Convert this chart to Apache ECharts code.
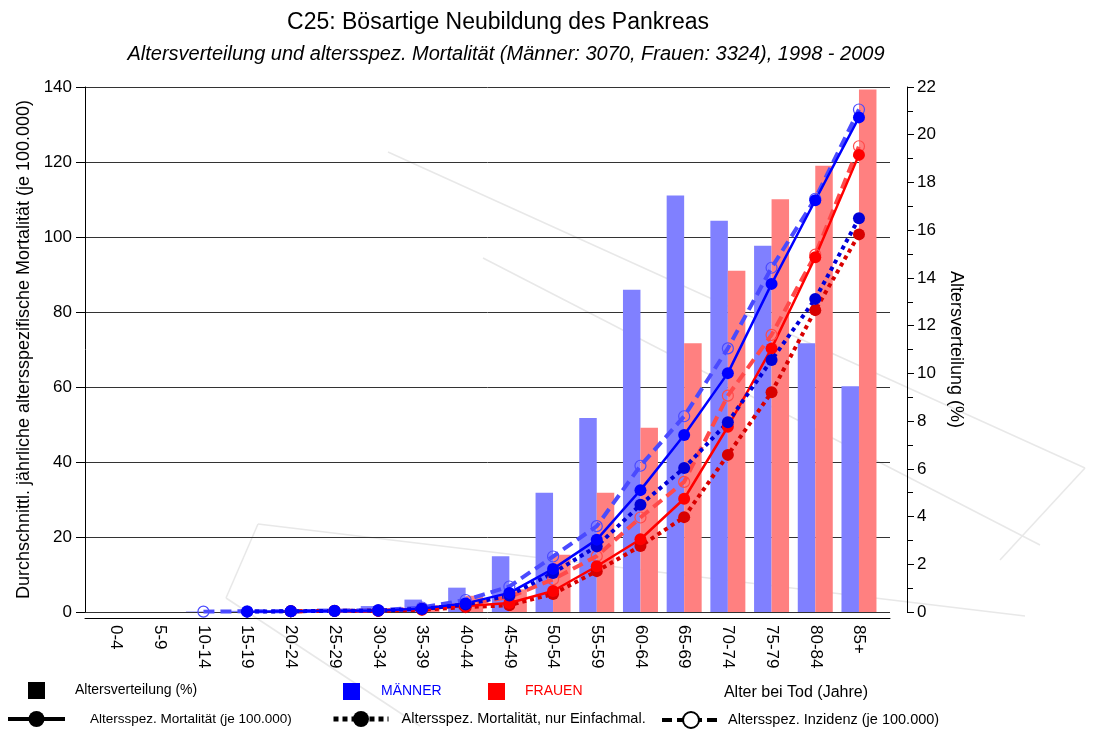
<!DOCTYPE html>
<html><head><meta charset="utf-8">
<script src="https://cdn.jsdelivr.net/npm/echarts@6/dist/echarts.min.js"></script>
<style>html,body{margin:0;padding:0;background:#fff}#c{width:1098px;height:733px}</style>
</head><body><div id="c"></div>
<script>
const categories = ['0-4','5-9','10-14','15-19','20-24','25-29','30-34','35-39','40-44','45-49','50-54','55-59','60-64','65-69','70-74','75-79','80-84','85+'];
// Altersverteilung (%)
const distMen   = [0, 0, 0.02, 0.05, 0.1, 0.15, 0.25, 0.52, 1.02, 2.34, 5.0, 8.13, 13.5, 17.45, 16.4, 15.35, 11.26, 9.46];
const distWomen = [0, 0, 0, 0.03, 0.05, 0.1, 0.15, 0.27, 0.68, 0.95, 2.4, 5.0, 7.72, 11.26, 14.3, 17.3, 18.7, 21.9];
// Altersspez. Mortalität (je 100.000)
const mortMen   = [null, null, null, 0.1, 0.2, 0.3, 0.4, 0.9, 2.3, 5.1, 11.5, 19.3, 32.5, 47.2, 63.7, 87.5, 109.8, 131.9];
const mortWomen = [null, null, null, null, 0.2, 0.3, 0.3, 0.7, 1.6, 2.4, 5.6, 12.2, 19.4, 30.2, 49.4, 70.3, 94.6, 121.9];
// Altersspez. Mortalität, nur Einfachmal.
const mortSingleMen   = [null, null, null, 0.1, 0.2, 0.3, 0.4, 0.8, 2.0, 4.4, 10.4, 17.5, 28.6, 38.4, 50.6, 67.2, 83.5, 105.0];
const mortSingleWomen = [null, null, null, null, 0.2, 0.3, 0.3, 0.6, 1.3, 1.8, 4.8, 10.9, 17.6, 25.3, 41.9, 58.6, 80.5, 100.7];
// Altersspez. Inzidenz (je 100.000)
const incMen   = [null, null, 0.1, 0.2, 0.2, 0.3, 0.5, 1.2, 3.2, 6.8, 14.8, 22.9, 39.0, 52.2, 70.3, 91.8, 110.2, 134.0];
const incWomen = [null, null, null, null, 0.2, 0.3, 0.4, 0.9, 2.0, 4.0, 8.7, 14.9, 25.2, 34.7, 57.7, 73.9, 95.3, 124.2];

const FONT = 'Liberation Sans, Arial, sans-serif';
const toXY = arr => arr.map((v, i) => v == null ? null : [i, v]).filter(p => p);

function lineSeries(name, data, color, type, width, open) {
  return {
    name: name, type: 'line', xAxisIndex: 0, yAxisIndex: 0,
    data: toXY(data), symbol: 'circle', symbolSize: open ? 11 : 12,
    lineStyle: { color: color, width: width, type: type, cap: 'butt' },
    itemStyle: open ? { color: 'rgba(0,0,0,0)', borderColor: color, borderWidth: 1.2 } : { color: color },
    emphasis: { disabled: true }, animation: false, z: 3
  };
}

const chart = echarts.init(document.getElementById('c'), null, { renderer: 'canvas' });

const wm = [
  [[388,152],[1085,468]],
  [[483,258],[1040,545]],
  [[258,524],[1025,616]],
  [[258,524],[226,598]],
  [[226,598],[420,726]],
  [[1085,468],[1000,560]]
];

const option = {
  backgroundColor: '#fff',
  animation: false,
  textStyle: { fontFamily: FONT },
  graphic: wm.map(seg => ({ type: 'polyline', silent: true, z: -10, shape: { points: seg }, style: { stroke: '#e8e8e8', lineWidth: 1.5, fill: null } })),
  title: [
    { text: 'C25: Bösartige Neubildung des Pankreas', left: 493, top: 6, textAlign: 'center',
      textStyle: { fontFamily: FONT, fontSize: 23, fontWeight: 'normal', color: '#000' } },
    { text: 'Altersverteilung und altersspez. Mortalität (Männer: 3070, Frauen: 3324), 1998 - 2009', left: 501, top: 39, textAlign: 'center',
      textStyle: { fontFamily: FONT, fontSize: 20, fontStyle: 'italic', fontWeight: 'normal', color: '#000' } }
  ],
  legend: [
    { left: 23, top: 677, itemWidth: 17, itemHeight: 17, selectedMode: false,
      data: [{ name: 'Altersverteilung (%)', icon: 'rect', itemStyle: { color: '#000' } }],
      textStyle: { fontFamily: FONT, fontSize: 14, color: '#000', padding: [0, 0, 0, 25] } },
    { left: 338, top: 678, itemWidth: 17, itemHeight: 17, selectedMode: false,
      data: [{ name: 'MÄNNER', icon: 'rect', itemStyle: { color: '#0000ff' } }],
      textStyle: { fontFamily: FONT, fontSize: 14, color: '#0000ff', padding: [0, 0, 0, 16] } },
    { left: 483, top: 678, itemWidth: 17, itemHeight: 17, selectedMode: false,
      data: [{ name: 'FRAUEN', icon: 'rect', itemStyle: { color: '#ff0000' } }],
      textStyle: { fontFamily: FONT, fontSize: 14, color: '#ff0000', padding: [0, 0, 0, 15] } },
    { left: 1, top: 706, itemWidth: 57, itemHeight: 20, selectedMode: false,
      data: ['Altersspez. Mortalität (je 100.000)'], lineStyle: { width: 4 },
      textStyle: { fontFamily: FONT, fontSize: 13.5, color: '#000', padding: [0, 0, 0, 20] } },
    { left: 326, top: 706, itemWidth: 55, itemHeight: 20, selectedMode: false,
      data: ['Altersspez. Mortalität, nur Einfachmal.'], lineStyle: { width: 5 },
      textStyle: { fontFamily: FONT, fontSize: 14.5, color: '#000', padding: [0, 0, 0, 8] } },
    { left: 655, top: 706, itemWidth: 58, itemHeight: 20, selectedMode: false,
      data: ['Altersspez. Inzidenz (je 100.000)'], lineStyle: { width: 4 },
      textStyle: { fontFamily: FONT, fontSize: 14.5, color: '#000', padding: [0, 0, 0, 3] } }
  ],
  grid: { left: 85, right: 208, top: 87, bottom: 121, containLabel: false },
  xAxis: {
    type: 'value', min: -0.71, max: 17.71, offset: 6,
    name: 'Alter bei Tod (Jahre)', nameLocation: 'end', nameGap: -22,
    nameTextStyle: { fontFamily: FONT, fontSize: 16, color: '#000', align: 'right', verticalAlign: 'top', padding: [67, 0, 0, 0] },
    axisLine: { show: true, onZero: false, lineStyle: { color: '#000', width: 1 } },
    axisTick: { show: false },
    splitLine: { show: false },
    axisLabel: {
      customValues: categories.map((c, i) => i), rotate: -90, margin: 7,
      fontFamily: FONT, fontSize: 17, color: '#000',
      formatter: v => categories[Math.round(v)]
    }
  },
  yAxis: [
    { type: 'value', min: 0, max: 140, interval: 20, position: 'left',
      name: 'Durchschnittl. jährliche altersspezifische Mortalität (je 100.000)',
      nameLocation: 'middle', nameGap: 48, nameRotate: 90,
      nameTextStyle: { fontFamily: FONT, fontSize: 18, color: '#000' },
      axisLine: { show: true, onZero: false, lineStyle: { color: '#000', width: 1 } },
      axisTick: { show: true, inside: false, length: 9, lineStyle: { color: '#000' } },
      axisLabel: { fontFamily: FONT, fontSize: 17, color: '#000', margin: 13 },
      splitLine: { show: true, lineStyle: { color: '#333', width: 1 } } },
    { type: 'value', min: 0, max: 22, interval: 2, position: 'right', offset: 17,
      name: 'Altersverteilung (%)', nameLocation: 'middle', nameGap: 39, nameRotate: -90,
      nameTextStyle: { fontFamily: FONT, fontSize: 18, color: '#000' },
      axisLine: { show: true, onZero: false, lineStyle: { color: '#000', width: 1 } },
      axisTick: { show: true, length: 7, lineStyle: { color: '#000' } },
      minorTick: { show: true, splitNumber: 2, length: 6, lineStyle: { color: '#000' } },
      axisLabel: { fontFamily: FONT, fontSize: 17, color: '#000', margin: 10 },
      splitLine: { show: false } }
  ],
  series: [
    { name: 'Altersverteilung Männer', type: 'bar', xAxisIndex: 0, yAxisIndex: 1, data: toXY(distMen),
      barWidth: 17.5, barGap: '0%', itemStyle: { color: '#8080ff' }, emphasis: { disabled: true }, z: 2 },
    { name: 'Altersverteilung Frauen', type: 'bar', xAxisIndex: 0, yAxisIndex: 1, data: toXY(distWomen),
      barWidth: 17.5, barGap: '0%', itemStyle: { color: '#ff8080' }, emphasis: { disabled: true }, z: 2 },
    lineSeries('Inzidenz Frauen', incWomen, '#ff4a4a', [11, 6], 4, true),
    lineSeries('Mortalität Einfachmal. Frauen', mortSingleWomen, '#d80000', [4, 4], 4, false),
    lineSeries('Mortalität Frauen', mortWomen, '#ff0000', 'solid', 2.5, false),
    lineSeries('Inzidenz Männer', incMen, '#4a4aff', [11, 6], 4, true),
    lineSeries('Mortalität Einfachmal. Männer', mortSingleMen, '#0000d8', [4, 4], 4, false),
    lineSeries('Mortalität Männer', mortMen, '#0000ff', 'solid', 2.5, false),
    // legend-only entries
    { name: 'Altersverteilung (%)', type: 'line', data: [], itemStyle: { color: '#000' } },
    { name: 'MÄNNER', type: 'line', data: [], itemStyle: { color: '#0000ff' } },
    { name: 'FRAUEN', type: 'line', data: [], itemStyle: { color: '#ff0000' } },
    { name: 'Altersspez. Mortalität (je 100.000)', type: 'line', data: [], symbol: 'circle',
      itemStyle: { color: '#000' }, lineStyle: { color: '#000', width: 4, type: 'solid' } },
    { name: 'Altersspez. Mortalität, nur Einfachmal.', type: 'line', data: [], symbol: 'circle',
      itemStyle: { color: '#000' }, lineStyle: { color: '#000', width: 5, type: [5, 4] } },
    { name: 'Altersspez. Inzidenz (je 100.000)', type: 'line', data: [], symbol: 'emptyCircle',
      itemStyle: { color: '#000' }, lineStyle: { color: '#000', width: 4, type: [10, 5] } }
  ]
};
chart.setOption(option);
</script></body></html>
